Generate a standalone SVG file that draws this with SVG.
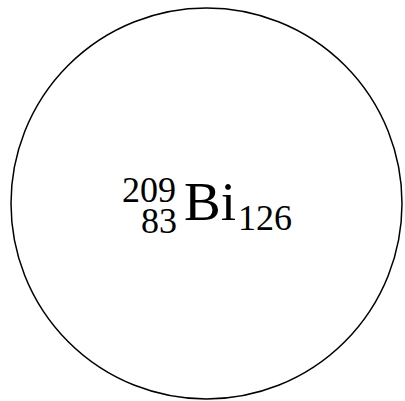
<svg xmlns="http://www.w3.org/2000/svg" width="405" height="401" viewBox="0 0 405 401">
<style>
.t{font-family:"Liberation Serif","DejaVu Serif",serif;fill:#000}
.s{font-size:36px}
.b{font-size:55px}
</style>
<rect width="405" height="401" fill="#fff"/>
<g id="nucleus">
<circle cx="206.5" cy="203.5" r="195.5" fill="none" stroke="#000" stroke-width="1.5"/>
<text class="t"><tspan class="s" x="122" y="202">209</tspan><tspan class="s" x="141" y="233">83</tspan><tspan class="b" x="184" y="220">Bi</tspan><tspan class="s" x="238" y="230">126</tspan></text>
</g>
</svg>
